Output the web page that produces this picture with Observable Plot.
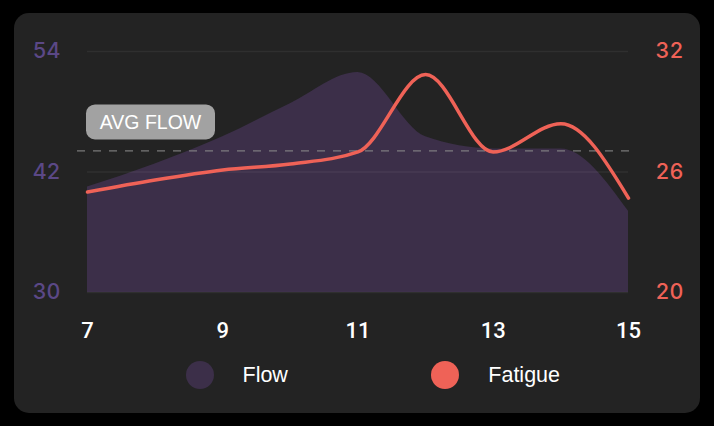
<!DOCTYPE html>
<html>
<head>
<meta charset="utf-8">
<script src="https://cdn.jsdelivr.net/npm/d3@7"></script>
<script src="https://cdn.jsdelivr.net/npm/@observablehq/plot@0.6"></script>
<style>
  html, body { margin: 0; padding: 0; background: #000; width: 714px; height: 426px; overflow: hidden; }
  #card { position: absolute; left: 14px; top: 13px; width: 686px; height: 400px; background: #232323; border-radius: 15px; }
  #chart { position: absolute; left: 0; top: 0; }
  .legend-dot { position: absolute; width: 28px; height: 28px; border-radius: 50%; top: 361px; }
  .legend-text { position: absolute; top: 361px; height: 28px; line-height: 28px; font-family: "Liberation Sans", Arial, sans-serif; font-size: 21.5px; color: #fff; }
</style>
</head>
<body>
<div id="card"></div>
<div id="chart"></div>
<div id="legend"></div>
<script>
// ---- data ----
const hours = [7, 8, 9, 10, 11, 12, 13, 14, 15];
const flow = [40.5, 42.8, 45.5, 48.8, 51.9, 45.5, 44.3, 44.3, 38.1];
const fatigue = [25.0, 25.6, 26.1, 26.4, 27.0, 30.85, 27.0, 28.4, 24.7];
const avgFlow = 44.1;
const xTicks = [7, 9, 11, 13, 15];
const flowTicks = [30, 42, 54];
const fatigueTicks = [20, 26, 32];
const seriesNames = ["Flow", "Fatigue"];
const seriesColors = ["#3c2f49", "#ef6257"];
const avgLabel = "AVG FLOW";

const data = hours.map((h, i) => ({hour: h, flow: flow[i], fatigue: fatigue[i]}));
const toFlow = d3.scaleLinear()
  .domain([fatigueTicks[0], fatigueTicks[fatigueTicks.length - 1]])
  .range([flowTicks[0], flowTicks[flowTicks.length - 1]]);

const chart = Plot.plot({
  width: 714,
  height: 426,
  marginLeft: 87,
  marginRight: 86,
  marginTop: 51,
  marginBottom: 134,
  style: {background: "transparent", overflow: "visible"},
  x: {domain: [hours[0], hours[hours.length - 1]]},
  y: {domain: [flowTicks[0], flowTicks[flowTicks.length - 1]]},
  marks: [
    Plot.areaY(data, {x: "hour", y1: flowTicks[0], y2: "flow", fill: seriesColors[0], curve: "monotone-x"}),
    Plot.ruleY(flowTicks, {stroke: "#fff", strokeOpacity: 0.06, strokeWidth: 1.5}),
    Plot.ruleY([avgFlow], {stroke: "#8e8e8e", strokeWidth: 1, strokeDasharray: "8,8", insetLeft: -10, insetRight: -9}),
    Plot.line(data, {x: "hour", y: d => toFlow(d.fatigue), stroke: seriesColors[1], strokeWidth: 3.5, curve: "monotone-x"}),
    Plot.axisX({ticks: xTicks, tickSize: 0, tickPadding: 30, label: null, fill: "#fff", fontSize: 22, fontWeight: 500, fontFamily: "Roboto, Liberation Sans, Arial, sans-serif"}),
    Plot.axisY({ticks: flowTicks, tickSize: 0, tickPadding: 27, label: null, fill: "#5b4886", fontSize: 21.5, fontWeight: 500, fontFamily: "Inter, sans-serif"}),
    Plot.axisY({anchor: "right", ticks: flowTicks, tickSize: 0, tickPadding: 27, label: null,
      tickFormat: d => fatigueTicks[flowTicks.indexOf(d)], fill: "#ef6257", fontSize: 21.5, fontWeight: 500, fontFamily: "Inter, sans-serif"})
  ]
});
document.getElementById("chart").appendChild(chart);

// AVG FLOW badge, anchored via scales
const sx = chart.scale("x"), sy = chart.scale("y");
const svg = d3.select(chart);
const bx = sx.apply(hours[0]) - 1, by = sy.apply(avgFlow) - 46;
const g = svg.append("g");
g.append("rect").attr("x", bx).attr("y", by).attr("width", 129).attr("height", 35).attr("rx", 9).attr("fill", "#a2a2a2");
g.append("text").attr("x", bx + 64.5).attr("y", by + 17.5).attr("dy", "0.35em")
  .attr("text-anchor", "middle").attr("fill", "#fff").attr("font-size", 19.5)
  .attr("font-family", "Liberation Sans, Arial, sans-serif").text(avgLabel);

// legend
const legend = document.getElementById("legend");
const dotCenters = [199.5, 445.3];
seriesNames.forEach((name, i) => {
  const dot = document.createElement("div");
  dot.className = "legend-dot";
  dot.style.left = (dotCenters[i] - 14) + "px";
  dot.style.background = seriesColors[i];
  legend.appendChild(dot);
  const t = document.createElement("div");
  t.className = "legend-text";
  t.style.left = (dotCenters[i] + 43) + "px";
  t.textContent = name;
  legend.appendChild(t);
});
</script>
</body>
</html>
